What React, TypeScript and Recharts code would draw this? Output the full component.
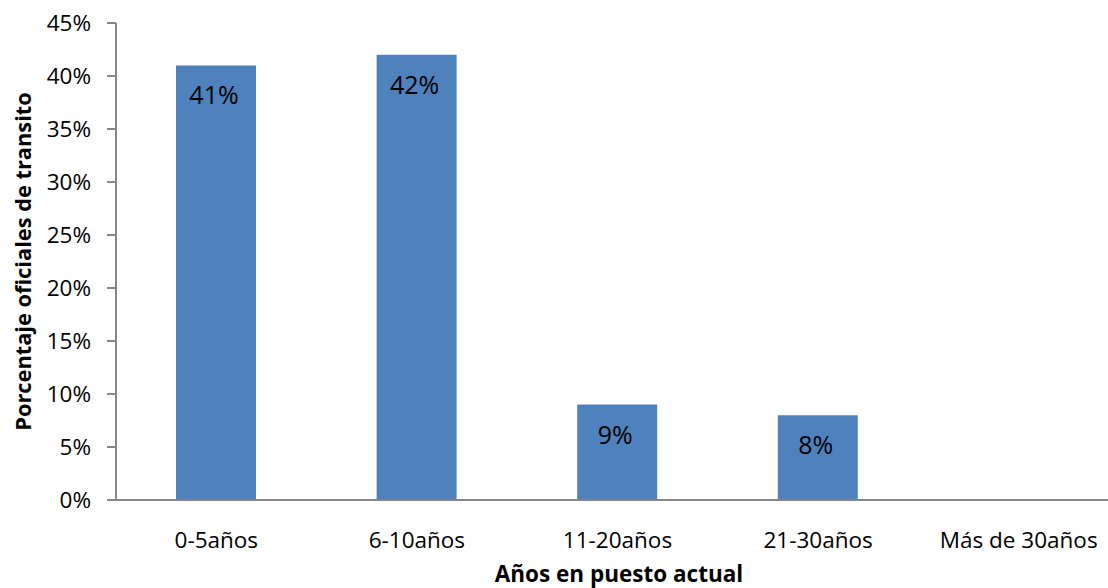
import React from "react";
import { BarChart, Bar, XAxis, YAxis, LabelList, Label } from "recharts";

const categories = ["0-5años", "6-10años", "11-20años", "21-30años", "Más de 30años"];
const shares = [0.41, 0.42, 0.09, 0.08, 0];
const yTicks = [0, 0.05, 0.1, 0.15, 0.2, 0.25, 0.3, 0.35, 0.4, 0.45];

const data = categories.map((name, i) => ({ name, value: shares[i] }));

const FONT = "'Open Sans', Lato, sans-serif";
const AXIS_GRAY = "#868686";
const BAR_BLUE = "#4F81BD";

const pct = (v: number) => `${Math.round(v * 100)}%`;

const ValueLabel = (props: any) => {
  const { x, y, width, value } = props;
  if (!value) return null;
  return (
    <text
      x={x + width / 2 - 2}
      y={y + 29}
      textAnchor="middle"
      dominantBaseline="central"
      fontFamily={FONT}
      fontSize={25}
      fill="#000"
    >
      {pct(value)}
    </text>
  );
};

export default function App() {
  return (
    <div
      style={{
        position: "absolute",
        left: 0,
        top: 0,
        width: 1108,
        height: 588,
        overflow: "hidden",
        background: "#fff",
      }}
    >
      <BarChart
        width={1124}
        height={588}
        data={data}
        margin={{ top: 23, right: 5, left: 0, bottom: 0 }}
        barCategoryGap={0}
      >
        <XAxis
          dataKey="name"
          height={88}
          tickLine={false}
          tickMargin={26}
          axisLine={{ stroke: AXIS_GRAY, strokeWidth: 2 }}
          tick={{ fill: "#000", fontSize: 22.5, fontFamily: FONT }}
          interval={0}
        >
          <Label
            content={() => (
              <text
                x={619}
                y={573}
                textAnchor="middle"
                dominantBaseline="central"
                fontFamily={FONT}
                fontWeight="bold"
                fontSize={22.5}
                fill="#000"
              >
                Años en puesto actual
              </text>
            )}
          />
        </XAxis>
        <YAxis
          width={116}
          domain={[0, 0.45]}
          ticks={yTicks}
          tickFormatter={pct}
          tickSize={9}
          tickMargin={16}
          axisLine={{ stroke: AXIS_GRAY, strokeWidth: 2 }}
          tickLine={{ stroke: AXIS_GRAY, strokeWidth: 2 }}
          tick={{ fill: "#000", fontSize: 22.5, fontFamily: FONT }}
          interval={0}
        >
          <Label
            content={(p: any) => {
              const vb = p.viewBox;
              const cy = vb.y + vb.height / 2;
              return (
                <text
                  x={22}
                  y={cy}
                  transform={`rotate(-90 22 ${cy})`}
                  textAnchor="middle"
                  dominantBaseline="central"
                  fontFamily={FONT}
                  fontWeight="bold"
                  fontSize={21.8}
                  fill="#000"
                >
                  Porcentaje oficiales de transito
                </text>
              );
            }}
          />
        </YAxis>
        <Bar dataKey="value" fill={BAR_BLUE} barSize={80} isAnimationActive={false}>
          <LabelList dataKey="value" content={ValueLabel} />
        </Bar>
      </BarChart>
    </div>
  );
}
